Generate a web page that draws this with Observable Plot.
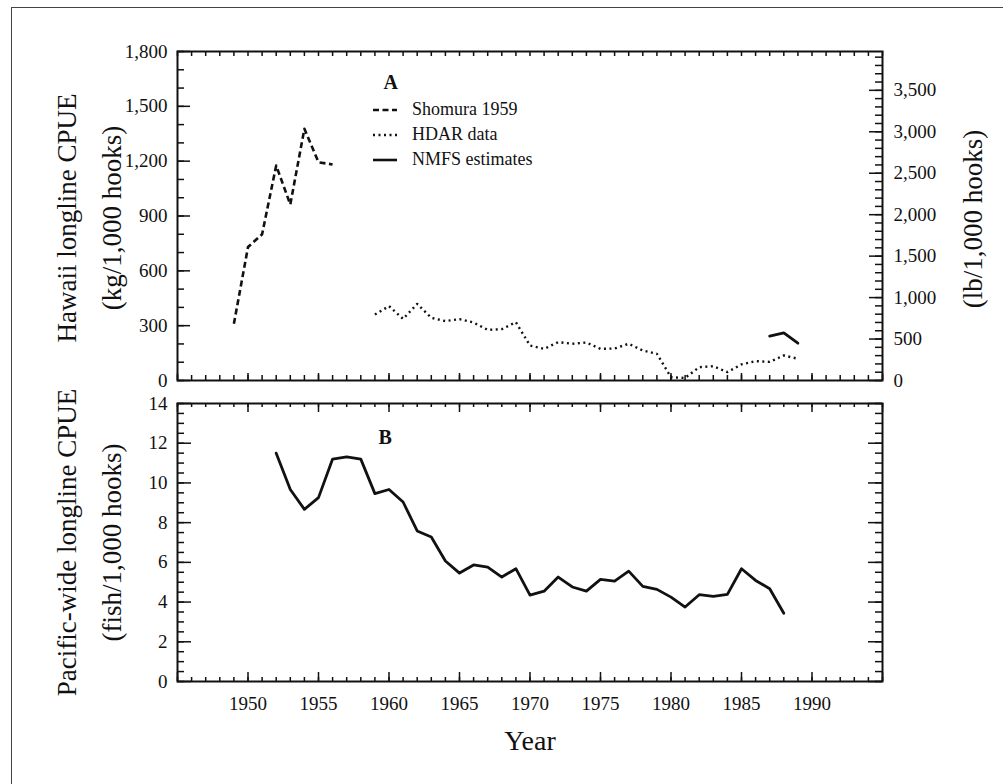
<!DOCTYPE html>
<html><head><meta charset="utf-8">
<script src="https://cdn.jsdelivr.net/npm/d3@7"></script>
<script src="https://cdn.jsdelivr.net/npm/@observablehq/plot@0.6"></script>
<style>
body{margin:0;background:#fff;}
#wrap{position:relative;width:1003px;height:784px;overflow:hidden;font-family:"Liberation Serif","Times New Roman",serif;color:#111;}
#border{position:absolute;left:11px;top:7px;width:1100px;height:900px;border-top:1.5px solid #444;border-left:1.5px solid #444;}
.panel{position:absolute;left:0;}
#legend{position:absolute;left:372px;top:97px;font-size:18px;line-height:25px;}
#legend div{display:flex;align-items:center;height:25px;}
#legend svg{margin-right:14px;}
</style></head><body>
<div id="wrap">
<div id="border"></div>
<div id="topPanel" class="panel" style="top:0"></div>
<div id="botPanel" class="panel" style="top:392px"></div>
<div id="legend"></div>
</div>
<script>
// ---- Data ----
const shomuraYears = [1949,1950,1951,1952,1953,1954,1955,1956];
const shomuraKg    = [310, 730, 800, 1176, 963, 1377, 1194, 1182];

const hdarYears = [1959,1960,1961,1962,1963,1964,1965,1966,1967,1968,1969,1970,1971,1972,1973,1974,1975,1976,1977,1978,1979,1980,1981,1982,1983,1984,1985,1986,1987,1988,1989];
const hdarKg    = [361, 407, 337, 419, 343, 325, 336, 317, 277, 281, 319, 191, 173, 210, 201, 208, 173, 175, 201, 164, 146, 18, 14, 73, 78, 46, 88, 106, 102, 137, 119];

const nmfsYears = [1987,1988,1989];
const nmfsKg    = [243, 261, 204];

const pacYears = [1952,1953,1954,1955,1956,1957,1958,1959,1960,1961,1962,1963,1964,1965,1966,1967,1968,1969,1970,1971,1972,1973,1974,1975,1976,1977,1978,1979,1980,1981,1982,1983,1984,1985,1986,1987,1988];
const pacFish  = [11.5, 9.67, 8.67, 9.26, 11.2, 11.31, 11.2, 9.46, 9.67, 9.04, 7.58, 7.28, 6.07, 5.46, 5.87, 5.76, 5.26, 5.68, 4.35, 4.55, 5.26, 4.76, 4.55, 5.14, 5.06, 5.56, 4.79, 4.64, 4.25, 3.75, 4.37, 4.29, 4.39, 5.68, 5.09, 4.67, 3.44];

// ---- Tick values ----
const yearLabels = [1950,1955,1960,1965,1970,1975,1980,1985,1990];
const yearTicks = d3.range(1945, 1996);
const yearMajor = [1945,1950,1955,1960,1965,1970,1975,1980,1985,1990,1995];
const kgLabels = [0,300,600,900,1200,1500,1800];
const kgMinor = d3.range(0, 1801, 100);
const lbLabels = [0,500,1000,1500,2000,2500,3000,3500];
const lbMinor = d3.range(0, 3901, 100);
const fishLabels = [0,2,4,6,8,10,12,14];
const fishMinor = d3.range(0, 14.01, 0.5);
const KG2LB = 2.20462;

const legendItems = [
  {name: "Shomura 1959", dash: "6,3.5"},
  {name: "HDAR data", dash: "2,3.5"},
  {name: "NMFS estimates", dash: null}
];

const shomura = shomuraYears.map((y,i)=>({year:y, v:shomuraKg[i]}));
const hdar = hdarYears.map((y,i)=>({year:y, v:hdarKg[i]}));
const nmfs = nmfsYears.map((y,i)=>({year:y, v:nmfsKg[i]}));
const pac = pacYears.map((y,i)=>({year:y, v:pacFish[i]}));

const INK = "#111";
const FONT = "Liberation Serif, Times New Roman, serif";
const W = 1003, ML = 177, MR = 121;
const FW = W - ML - MR;
const fmt = d3.format(",");
const TXT = {fill: INK, fontFamily: FONT, fontSize: 19, lineAnchor: "middle"};
const TITLE = {fill: INK, fontFamily: FONT, fontSize: 27, lineAnchor: "middle", textAnchor: "middle", rotate: -90, lineHeight: 45/27};

function yTicks(vals, len, side, map = d=>d) {
  return Plot.tickY(vals, {y: map, stroke: INK, strokeWidth: 1.5,
    insetLeft: side === "left" ? 0 : FW - len,
    insetRight: side === "left" ? FW - len : 0});
}
function xTicks(vals, len, side, fh) {
  return Plot.tickX(vals, {x: d=>d, stroke: INK, strokeWidth: 1.5,
    insetTop: side === "top" ? 0 : fh - len,
    insetBottom: side === "top" ? fh - len : 0});
}

// ---- Top panel ----
const topH = 392, topMT = 51, topMB = 12;
const topFH = topH - topMT - topMB;
const topChart = Plot.plot({
  width: W, height: topH,
  marginLeft: ML, marginRight: MR, marginTop: topMT, marginBottom: topMB,
  x: {domain: [1945, 1995], axis: null},
  y: {domain: [0, 1800], axis: null},
  style: {fontFamily: FONT, fontSize: "19px", color: INK, background: "transparent", overflow: "visible"},
  marks: [
    yTicks(kgMinor, 7, "left"),
    yTicks(kgLabels, 13, "left"),
    yTicks(lbMinor, 7, "right", d => d / KG2LB),
    yTicks(lbLabels, 13, "right", d => d / KG2LB),
    xTicks(yearTicks, 5, "top", topFH),
    xTicks(yearTicks, 5, "bottom", topFH),
    xTicks(yearMajor, 7, "bottom", topFH),
    Plot.text(kgLabels, {...TXT, y: d=>d, text: d=>fmt(d), frameAnchor: "left", dx: -10, textAnchor: "end"}),
    Plot.text(lbLabels, {...TXT, y: d=>d / KG2LB, text: d=>fmt(d), frameAnchor: "right", dx: 11, textAnchor: "start"}),
    Plot.text(["Hawaii longline CPUE\n(kg/1,000 hooks)"], {...TITLE, frameAnchor: "left", dx: -93, dy: 2}),
    Plot.text(["(lb/1,000 hooks)"], {...TITLE, frameAnchor: "right", dx: 85, dy: 3}),
    Plot.text(["A"], {...TXT, frameAnchor: "top-left", dx: 206, dy: 31, fontSize: 20, fontWeight: "bold"}),
    Plot.line(shomura, {x: "year", y: "v", stroke: INK, strokeWidth: 2.6, strokeDasharray: "6,3.5", strokeLinecap: "butt"}),
    Plot.line(hdar, {x: "year", y: "v", stroke: INK, strokeWidth: 2.4, strokeDasharray: "2,3.5", strokeLinecap: "butt"}),
    Plot.line(nmfs, {x: "year", y: "v", stroke: INK, strokeWidth: 2.8}),
    Plot.frame({stroke: INK, strokeWidth: 2})
  ]
});
document.getElementById("topPanel").append(topChart);

// ---- Bottom panel ----
const botH = 392, botMT = 11, botMB = 103;
const botFH = botH - botMT - botMB;
const botChart = Plot.plot({
  width: W, height: botH,
  marginLeft: ML, marginRight: MR, marginTop: botMT, marginBottom: botMB,
  x: {domain: [1945, 1995], axis: null},
  y: {domain: [0, 14], axis: null},
  style: {fontFamily: FONT, fontSize: "19px", color: INK, background: "transparent", overflow: "visible"},
  marks: [
    yTicks(fishMinor, 7, "left"),
    yTicks(fishLabels, 14, "left"),
    yTicks(fishMinor, 7, "right"),
    yTicks(fishLabels, 14, "right"),
    xTicks(yearTicks, 4, "top", botFH),
    xTicks(yearMajor, 9, "top", botFH),
    xTicks(yearTicks, 4, "bottom", botFH),
    xTicks(yearMajor, 9, "bottom", botFH),
    Plot.text(fishLabels, {...TXT, y: d=>d, text: d=>String(d), frameAnchor: "left", dx: -10, textAnchor: "end"}),
    Plot.text(yearLabels, {...TXT, x: d=>d, text: d=>String(d), frameAnchor: "bottom", dy: 22, textAnchor: "middle"}),
    Plot.text(["Year"], {...TXT, frameAnchor: "bottom", dy: 60, fontSize: 28, textAnchor: "middle"}),
    Plot.text(["Pacific-wide longline CPUE\n(fish/1,000 hooks)"], {...TITLE, frameAnchor: "left", dx: -93, dy: 0}),
    Plot.text(["B"], {...TXT, frameAnchor: "top-left", dx: 201, dy: 34, fontSize: 20, fontWeight: "bold"}),
    Plot.line(pac, {x: "year", y: "v", stroke: INK, strokeWidth: 2.8}),
    Plot.frame({stroke: INK, strokeWidth: 2})
  ]
});
document.getElementById("botPanel").append(botChart);

// ---- Legend (panel A) ----
const leg = d3.select("#legend");
legendItems.forEach(it => {
  const row = leg.append("div");
  const s = row.append("svg").attr("width", 26).attr("height", 10);
  s.append("line").attr("x1", 1).attr("x2", 25).attr("y1", 5).attr("y2", 5)
    .attr("stroke", INK).attr("stroke-width", it.dash === "2,3.5" ? 2.4 : 2.6)
    .attr("stroke-dasharray", it.dash);
  row.append("span").text(it.name);
});
</script>
</body></html>
